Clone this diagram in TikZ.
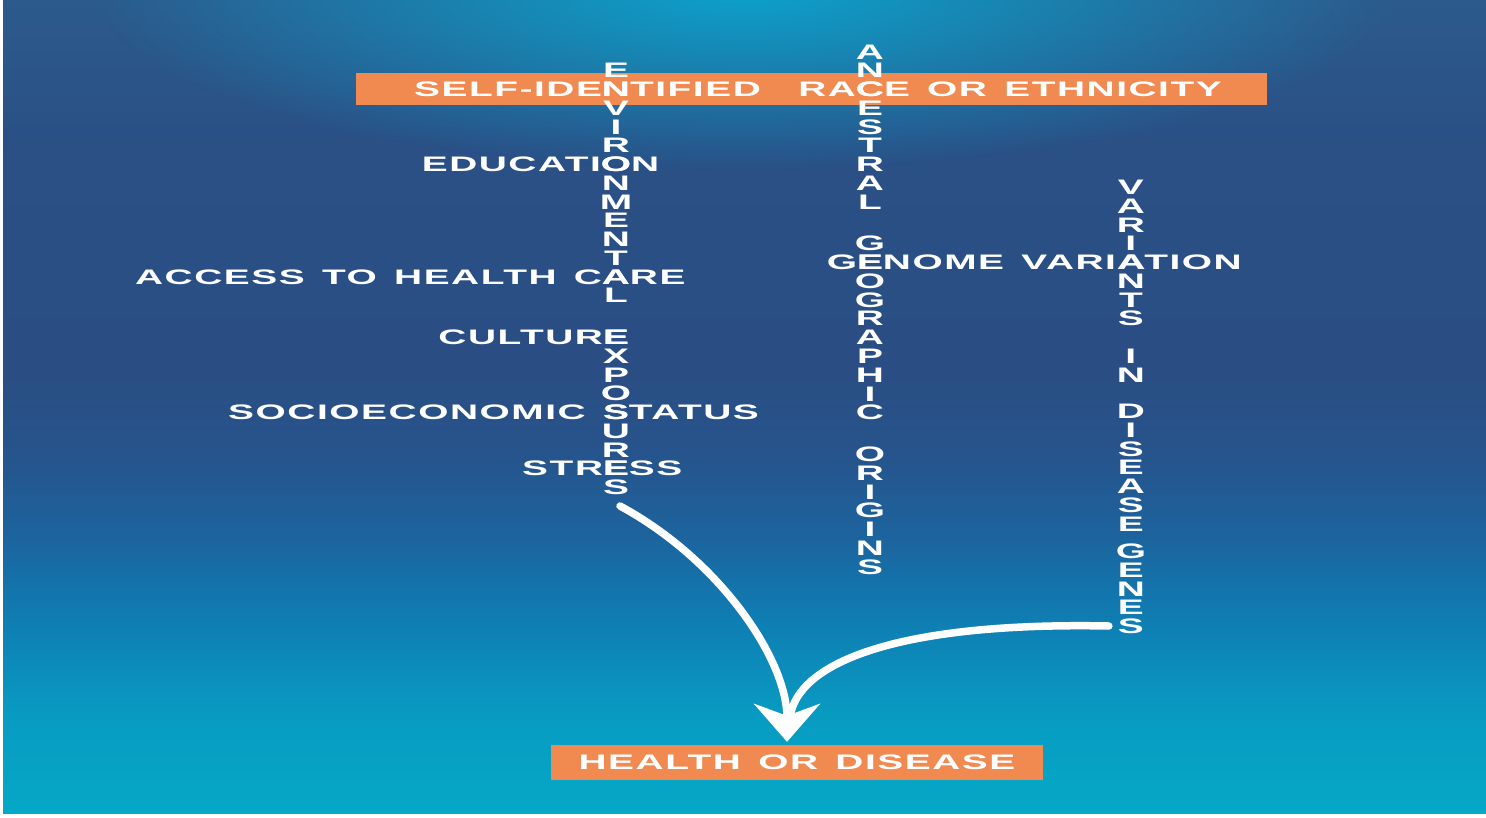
\documentclass[tikz,border=0pt]{standalone}
\usepackage{fontspec}
\usepackage{graphicx}
\usetikzlibrary{arrows.meta,fadings}
\newfontfamily\lblfont[LetterSpace=4,WordSpace=1.4]{Liberation Sans}
\newcommand{\lblsize}{\lblfont\bfseries\fontsize{21}{21}\selectfont}
\newcommand{\wtx}[1]{\scalebox{1.85}[1]{#1}}
\newlength{\gvoff}
\newlength{\gvhalf}
\definecolor{bandorange}{RGB}{240,138,80}
\definecolor{bgtop}{RGB}{44,90,140}
\definecolor{bgdark}{RGB}{42,78,132}
\definecolor{bgdark2}{RGB}{42,80,134}
\definecolor{bgmid}{RGB}{38,84,140}
\definecolor{bgmid2}{RGB}{28,100,158}
\definecolor{bglow}{RGB}{15,125,178}
\definecolor{bglow2}{RGB}{8,155,194}
\definecolor{bgbot}{RGB}{5,168,198}
\definecolor{bgglow}{RGB}{12,162,204}
\pgfdeclareverticalshading{bgfade}{100bp}{color(0bp)=(bgbot); color(25bp)=(bgbot); color(31bp)=(bglow2); color(37bp)=(bglow); color(42bp)=(bgmid2); color(47bp)=(bgmid); color(52bp)=(bgdark); color(66bp)=(bgdark2); color(75bp)=(bgtop); color(100bp)=(bgtop)}
\tikzfading[name=glowfade, inner color=transparent!0, outer color=transparent!100]

\begin{document}
% where the A of VARIATION falls
\settowidth{\gvoff}{\lblsize\wtx{NOME VARI}}%
\settowidth{\gvhalf}{\lblsize\wtx{EA}}%
\pgfmathsetmacro{\colC}{870+\gvoff+0.5*\gvhalf}%
\begin{tikzpicture}[x=1pt,y=-1pt,
  lbl/.style={text=white,font=\lblsize,inner sep=0pt,anchor=base},
  band/.style={fill=bandorange,inner sep=0pt},
  flow/.style={draw=white,line width=7.5pt,line cap=round}]
% Background
\useasboundingbox (0,0) rectangle (1486,818);
\fill[white] (0,0) rectangle (1486,818);
\shade[shading=bgfade] (3,1) rectangle (1486,813);
\begin{scope}
\clip (3,1) rectangle (1486,813);
\fill[bgglow,path fading=glowfade] (745,-10) ellipse [x radius=650,y radius=180];
\end{scope}

% Orange bands
\node[band,minimum width=911,minimum height=32] (raceband) at (811.5,89) {};
\node[band,minimum width=492,minimum height=35,text=white,font=\lblsize]
  (hd) at (797,762.5) {\wtx{HEALTH OR DISEASE}};

% Environmental exposures column
\foreach \ch [count=\i from 0] in {E,N,V,I,R,O,N,M,E,N,T,A,L}
  \node[lbl] (env-\i) at (616,78+\i*18.75) {\wtx{\ch}};
\foreach \ch [count=\i from 0] in {E,X,P,O,S,U,R,E,S}
  \node[lbl] (exp-\i) at (616,344.5+\i*18.75) {\wtx{\ch}};

% Ancestral geographic origins column
\foreach \ch [count=\i from 0] in {A,N,C,E,S,T,R,A,L}
  \node[lbl] (anc-\i) at (870,59.25+\i*18.75) {\wtx{\ch}};
\foreach \ch [count=\i from 0] in {G,E,O,G,R,A,P,H,I,C}
  \node[lbl] (geo-\i) at (870,251+\i*18.75) {\wtx{\ch}};
\foreach \ch [count=\i from 0] in {O,R,I,G,I,N,S}
  \node[lbl] (ori-\i) at (870,461.5+\i*18.75) {\wtx{\ch}};

% Variants in disease genes column
\foreach \ch [count=\i from 0] in {V,A,R,I,A,N,T,S}
  \node[lbl] (var-\i) at (\colC,194.75+\i*18.75) {\wtx{\ch}};
\foreach \ch [count=\i from 0] in {I,N}
  \node[lbl] (inn-\i) at (\colC,363.5+\i*18.75) {\wtx{\ch}};
\foreach \ch [count=\i from 0] in {D,I,S,E,A,S,E}
  \node[lbl] (dis-\i) at (\colC,418.5+\i*18.75) {\wtx{\ch}};
\foreach \ch [count=\i from 0] in {G,E,N,E,S}
  \node[lbl] (gen-\i) at (\colC,558.5+\i*18.75) {\wtx{\ch}};

% Words across
\node[lbl] (selfid) at (env-1.base) {\wtx{\llap{SELF-IDE}N\rlap{TIFIED}}};
\node[lbl] (race) at (anc-2.base) {\wtx{\llap{RA}C\rlap{E OR ETHNICITY}}};
\node[lbl] (educ) at (env-5.base) {\wtx{\llap{EDUCATI}O\rlap{N}}};
\node[lbl] (access) at (env-11.base) {\wtx{\llap{ACCESS TO HEALTH C}A\rlap{RE}}};
\node[lbl] (culture) at (exp-0.base) {\wtx{\llap{CULTUR}E}};
\node[lbl] (socio) at (exp-4.base) {\wtx{\llap{SOCIOECONOMIC\ }S\rlap{TATUS}}};
\node[lbl] (stress) at (exp-7.base) {\wtx{\llap{STR}E\rlap{SS}}};
\node[lbl] (genome) at (geo-1.base) {\wtx{\llap{G}E\rlap{NOME VARIATION}}};

% Arrows
\coordinate (envout) at (620,506);
\coordinate (genout) at ([xshift=-22pt,yshift=7.5pt]gen-4.base);
\coordinate (merge) at (791,712);
\draw[flow] (genout) .. controls +(-205,-4) and +(13,-52) .. (merge);
\draw[flow,shorten >=3pt,-{Stealth[length=38pt,width=66pt,inset=12pt]}]
  (envout) .. controls +(100,54) and +(0,-85) .. ([xshift=-10pt]hd.north);
\end{tikzpicture}
\end{document}
